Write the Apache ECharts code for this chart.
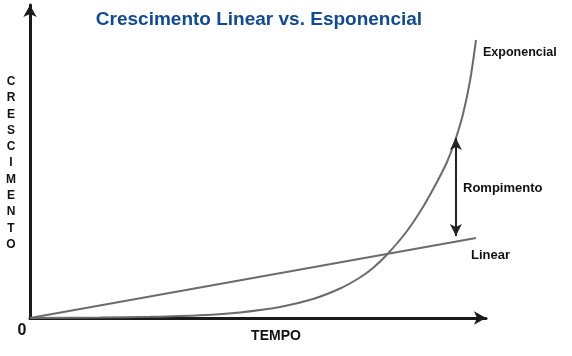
<!DOCTYPE html>
<html>
<head>
<meta charset="utf-8">
<script src="https://cdn.jsdelivr.net/npm/echarts@6/dist/echarts.min.js"></script>
<style>
  html, body { margin: 0; padding: 0; background: #ffffff; }
  #chart { width: 572px; height: 356px; }
</style>
</head>
<body>
<div id="chart"></div>
<script>
// ---- data ----
const timeValues = [0, 1.535, 2.632, 3.728, 4.605, 5.482, 6.206, 6.798, 7.237, 7.522, 7.851, 8.268, 8.618, 8.925, 9.145, 9.320, 9.496, 9.649, 9.781];
const exponentialValues = [0, 0.13, 0.38, 0.89, 1.79, 3.51, 6.07, 9.42, 12.94, 15.97, 20.61, 27.80, 35.46, 43.45, 49.84, 56.55, 65.18, 75.72, 88.82];
const linearTime = [0, 9.78];
const linearValues = [0, 25.56];
const gapTime = 9.34;
const gapRange = [26.2, 57.5];
const originLabel = '0';
const xAxisTitle = 'TEMPO';
const yAxisTitle = 'CRESCIMENTO';
const seriesNames = ['Exponencial', 'Linear'];
const gapLabel = 'Rompimento';
const chartTitle = 'Crescimento Linear vs. Esponencial';

const FONT = '"Liberation Sans", Arial, sans-serif';
const chart = echarts.init(document.getElementById('chart'), null, { renderer: 'canvas' });

const expData = timeValues.map((t, i) => [t, exponentialValues[i]]);
const linData = linearTime.map((t, i) => [t, linearValues[i]]);

chart.setOption({
  backgroundColor: '#ffffff',
  animation: false,
  grid: { left: 30, right: 86, top: 5, bottom: 38 },
  xAxis: {
    type: 'value', min: 0, max: 10,
    axisLine: { show: true, onZero: false, symbol: ['none', 'arrow'], symbolSize: [10, 12],
      lineStyle: { color: '#1a1a1a', width: 3 } },
    axisTick: { show: false }, axisLabel: { show: false }, splitLine: { show: false }
  },
  yAxis: {
    type: 'value', min: 0, max: 100,
    axisLine: { show: true, onZero: false, symbol: ['none', 'arrow'], symbolSize: [10, 12],
      lineStyle: { color: '#1a1a1a', width: 3 } },
    axisTick: { show: false }, axisLabel: { show: false }, splitLine: { show: false }
  },
  series: [
    {
      name: seriesNames[0], type: 'line', data: expData, smooth: 0.3,
      showSymbol: false, lineStyle: { color: '#6b6b6b', width: 2 }, silent: true
    },
    {
      name: seriesNames[1], type: 'line', data: linData, showSymbol: false,
      lineStyle: { color: '#6b6b6b', width: 2 }, silent: true,
      markLine: {
        silent: true, symbol: ['arrow', 'arrow'], symbolSize: [9, 12],
        label: { show: false },
        lineStyle: { color: '#222222', width: 2, type: 'solid' },
        data: [[{ coord: [gapTime, gapRange[1]] }, { coord: [gapTime, gapRange[0]] }]]
      }
    }
  ],
  graphic: [
    { type: 'text', style: { text: chartTitle, x: 259, y: 20, align: 'center', verticalAlign: 'middle',
        font: 'bold 19px ' + FONT, fill: '#134a8e' } },
    { type: 'text', style: { text: yAxisTitle.split('').join('\n'), x: 11, y: 73.5, align: 'center', verticalAlign: 'top',
        font: 'bold 12px ' + FONT, lineHeight: 16.3, fill: '#111111' } },
    { type: 'text', style: { text: originLabel, x: 22, y: 331, align: 'center', verticalAlign: 'middle',
        font: 'bold 16px ' + FONT, fill: '#111111' } },
    { type: 'text', style: { text: xAxisTitle, x: 276, y: 336, align: 'center', verticalAlign: 'middle',
        font: 'bold 14px ' + FONT, fill: '#111111' } },
    { type: 'text', style: { text: seriesNames[0], x: 483, y: 53, align: 'left', verticalAlign: 'middle',
        font: 'bold 12.5px ' + FONT, fill: '#111111' } },
    { type: 'text', style: { text: gapLabel, x: 463, y: 188, align: 'left', verticalAlign: 'middle',
        font: 'bold 13px ' + FONT, fill: '#111111' } },
    { type: 'text', style: { text: seriesNames[1], x: 471, y: 255, align: 'left', verticalAlign: 'middle',
        font: 'bold 13px ' + FONT, fill: '#111111' } }
  ]
});
</script>
</body>
</html>
